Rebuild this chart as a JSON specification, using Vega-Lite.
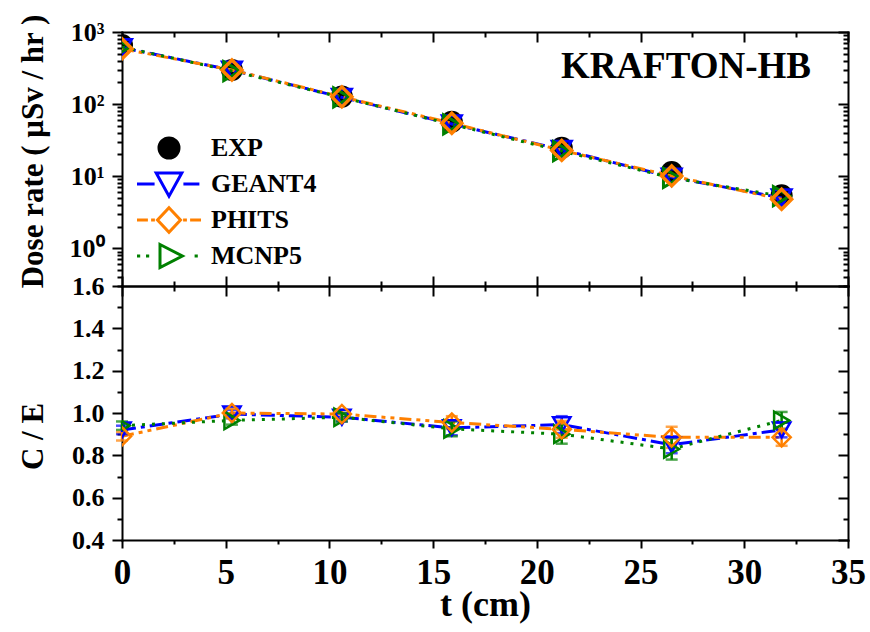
{
  "$schema": "https://vega.github.io/schema/vega-lite/v6.json",
  "background": "white",
  "padding": {"left": 16, "top": 13, "right": 5, "bottom": 5},
  "spacing": 0,
  "bounds": "flush",
  "datasets": {
    "dose": [
      {"t": 0, "series": "EXP", "dose": 660}, {"t": 5.3, "series": "EXP", "dose": 297}, {"t": 10.6, "series": "EXP", "dose": 127}, {"t": 15.9, "series": "EXP", "dose": 57}, {"t": 21.2, "series": "EXP", "dose": 24.8}, {"t": 26.5, "series": "EXP", "dose": 11.4}, {"t": 31.8, "series": "EXP", "dose": 5.43},
      {"t": 0, "series": "GEANT4", "dose": 607}, {"t": 5.3, "series": "GEANT4", "dose": 296}, {"t": 10.6, "series": "GEANT4", "dose": 124}, {"t": 15.9, "series": "GEANT4", "dose": 53}, {"t": 21.2, "series": "GEANT4", "dose": 23.4}, {"t": 26.5, "series": "GEANT4", "dose": 9.7}, {"t": 31.8, "series": "GEANT4", "dose": 5.0},
      {"t": 0, "series": "PHITS", "dose": 587}, {"t": 5.3, "series": "PHITS", "dose": 297}, {"t": 10.6, "series": "PHITS", "dose": 126}, {"t": 15.9, "series": "PHITS", "dose": 54.4}, {"t": 21.2, "series": "PHITS", "dose": 22.8}, {"t": 26.5, "series": "PHITS", "dose": 10.1}, {"t": 31.8, "series": "PHITS", "dose": 4.8},
      {"t": 0, "series": "MCNP5", "dose": 620}, {"t": 5.3, "series": "MCNP5", "dose": 287}, {"t": 10.6, "series": "MCNP5", "dose": 124}, {"t": 15.9, "series": "MCNP5", "dose": 52.4}, {"t": 21.2, "series": "MCNP5", "dose": 22.3}, {"t": 26.5, "series": "MCNP5", "dose": 9.5}, {"t": 31.8, "series": "MCNP5", "dose": 5.3}
    ],
    "ratio": [
      {"t": 0, "series": "GEANT4", "ce": 0.92, "err": 0.02}, {"t": 5.3, "series": "GEANT4", "ce": 0.995, "err": 0.02}, {"t": 10.6, "series": "GEANT4", "ce": 0.98, "err": 0.02}, {"t": 15.9, "series": "GEANT4", "ce": 0.93, "err": 0.035}, {"t": 21.2, "series": "GEANT4", "ce": 0.945, "err": 0.04}, {"t": 26.5, "series": "GEANT4", "ce": 0.85, "err": 0.04}, {"t": 31.8, "series": "GEANT4", "ce": 0.92, "err": 0.035},
      {"t": 0, "series": "PHITS", "ce": 0.89, "err": 0.02}, {"t": 5.3, "series": "PHITS", "ce": 1.0, "err": 0.02}, {"t": 10.6, "series": "PHITS", "ce": 0.995, "err": 0.02}, {"t": 15.9, "series": "PHITS", "ce": 0.955, "err": 0.03}, {"t": 21.2, "series": "PHITS", "ce": 0.923, "err": 0.04}, {"t": 26.5, "series": "PHITS", "ce": 0.885, "err": 0.05}, {"t": 31.8, "series": "PHITS", "ce": 0.885, "err": 0.04},
      {"t": 0, "series": "MCNP5", "ce": 0.94, "err": 0.02}, {"t": 5.3, "series": "MCNP5", "ce": 0.965, "err": 0.02}, {"t": 10.6, "series": "MCNP5", "ce": 0.98, "err": 0.02}, {"t": 15.9, "series": "MCNP5", "ce": 0.925, "err": 0.035}, {"t": 21.2, "series": "MCNP5", "ce": 0.9, "err": 0.045}, {"t": 26.5, "series": "MCNP5", "ce": 0.83, "err": 0.05}, {"t": 31.8, "series": "MCNP5", "ce": 0.965, "err": 0.04}
    ]
  },
  "config": {
    "font": "Liberation Serif",
    "view": {"stroke": null},
    "axis": {"grid": false, "domainColor": "black", "domainWidth": 2, "domainCap": "square", "tickColor": "black", "tickWidth": 2, "labelColor": "black", "labelFont": "Liberation Serif", "labelFontWeight": "bold", "titleFont": "Liberation Serif", "titleFontWeight": "bold", "titleColor": "black", "labelFlush": false, "labelOverlap": false, "labelBound": false}
  },
  "vconcat": [
    {
      "width": 726,
      "height": 254,
      "title": {"text": "KRAFTON-HB", "anchor": "end", "frame": "group", "orient": "top", "fontSize": 37, "font": "Liberation Serif", "fontWeight": "bold", "color": "black", "baseline": "alphabetic", "offset": 0, "dx": -37, "dy": 101},
      "data": {"name": "dose"},
      "resolve": {"axis": {"x": "independent", "y": "independent"}},
      "layer": [
        {
          "transform": [{"filter": "datum.series == 'EXP'"}],
          "mark": {"type": "point", "shape": "circle", "filled": true, "color": "black", "opacity": 1, "size": 484, "clip": true},
          "encoding": {
            "x": {"field": "t", "type": "quantitative", "scale": {"domain": [0, 35], "nice": false},
              "axis": {"orient": "bottom", "values": [0, 2.5, 5, 7.5, 10, 12.5, 15, 17.5, 20, 22.5, 25, 27.5, 30, 32.5, 35], "labels": false, "title": null,
                "tickSize": {"condition": {"test": "datum.value % 5 == 0", "value": -10}, "value": -5}}},
            "y": {"field": "dose", "type": "quantitative", "scale": {"type": "log", "domain": [0.3, 1000], "nice": false},
              "axis": {"orient": "left", "values": [0.3, 0.4, 0.5, 0.6, 0.7, 0.8, 0.9, 1, 2, 3, 4, 5, 6, 7, 8, 9, 10, 20, 30, 40, 50, 60, 70, 80, 90, 100, 200, 300, 400, 500, 600, 700, 800, 900, 1000],
                "labelExpr": "datum.value == 1000 ? '10³' : datum.value == 100 ? '10²' : datum.value == 10 ? '10¹' : datum.value == 1 ? '10⁰' : ''",
                "labelFontSize": 26, "labelPadding": 8, "labelBaseline": "middle",
                "tickSize": {"condition": {"test": "indexof([1,10,100,1000], datum.value) >= 0", "value": 10}, "value": 5},
                "title": "Dose rate ( μSv / hr )", "titleFontSize": 31, "titleX": -89, "titleY": 119, "titleBaseline": "middle", "titleAngle": -90, "titleAlign": "center"}}
          }
        },
        {
          "transform": [{"filter": "datum.series != 'EXP'"}],
          "mark": {"type": "line", "strokeWidth": 3, "clip": true},
          "encoding": {
            "x": {"field": "t", "type": "quantitative",
              "axis": {"orient": "top", "values": [0, 2.5, 5, 7.5, 10, 12.5, 15, 17.5, 20, 22.5, 25, 27.5, 30, 32.5, 35], "labels": false, "title": null,
                "tickSize": {"condition": {"test": "datum.value % 5 == 0", "value": -10}, "value": -5}}},
            "y": {"field": "dose", "type": "quantitative",
              "axis": {"orient": "right", "values": [0.3, 0.4, 0.5, 0.6, 0.7, 0.8, 0.9, 1, 2, 3, 4, 5, 6, 7, 8, 9, 10, 20, 30, 40, 50, 60, 70, 80, 90, 100, 200, 300, 400, 500, 600, 700, 800, 900, 1000], "labels": false, "title": null,
                "tickSize": {"condition": {"test": "indexof([1,10,100,1000], datum.value) >= 0", "value": -10}, "value": -5}}},
            "color": {"field": "series", "type": "nominal", "scale": {"domain": ["GEANT4", "PHITS", "MCNP5"], "range": ["#0000ff", "#ff8000", "#008000"]}, "legend": null},
            "strokeDash": {"field": "series", "type": "nominal", "scale": {"domain": ["GEANT4", "PHITS", "MCNP5"], "range": [[14, 5, 4, 5], [12, 5, 4, 5, 4, 5], [3, 7]]}, "legend": null}
          }
        },
        {
          "transform": [{"filter": "datum.series == 'GEANT4'"}],
          "mark": {"type": "point", "shape": "triangle-down", "filled": false, "color": "#0000ff", "strokeWidth": 3, "size": 360, "opacity": 1, "clip": true},
          "encoding": {"x": {"field": "t", "type": "quantitative", "axis": null}, "y": {"field": "dose", "type": "quantitative", "axis": null}}
        },
        {
          "transform": [{"filter": "datum.series == 'MCNP5'"}],
          "mark": {"type": "point", "shape": "triangle-right", "filled": false, "color": "#008000", "strokeWidth": 3, "size": 360, "opacity": 1, "clip": true},
          "encoding": {"x": {"field": "t", "type": "quantitative", "axis": null}, "y": {"field": "dose", "type": "quantitative", "axis": null}}
        },
        {
          "transform": [{"filter": "datum.series == 'PHITS'"}],
          "mark": {"type": "point", "shape": "diamond", "filled": false, "color": "#ff8000", "strokeWidth": 3.5, "size": 400, "opacity": 1, "clip": true},
          "encoding": {"x": {"field": "t", "type": "quantitative", "axis": null}, "y": {"field": "dose", "type": "quantitative", "axis": null}}
        },
        {
          "mark": {"type": "point", "filled": true, "opacity": 0},
          "encoding": {
            "x": {"field": "t", "type": "quantitative", "axis": null},
            "y": {"field": "dose", "type": "quantitative", "axis": null},
            "shape": {"field": "series", "type": "nominal",
              "scale": {"domain": ["EXP", "GEANT4", "PHITS", "MCNP5"], "range": [
                "M0,-1.25M0,1.25M1,0A1,1,0,1,1,-1,0A1,1,0,1,1,1,0Z",
                "M0,-1.25M0,1.25M-3.2,0H-1.44M1.44,0H3.04M-1.28,-1.09L1.28,-1.09L0,1.22Z",
                "M0,-1.25M0,1.25M-3.2,0H-2.11M-1.79,0H-1.41M1.41,0H1.79M2.11,0H3.2M0,-1.22L1.15,0L0,1.22L-1.15,0Z",
                "M0,-1.25M0,1.25M-3.2,0H-2.88M-2.3,0H-1.98M2.56,0H2.88M-0.9,-1.15L1.34,0L-0.9,1.15Z"]},
              "legend": {"orient": "none", "legendX": 34, "legendY": 103, "title": null, "symbolSize": 400, "symbolStrokeWidth": 3, "labelFontSize": 26, "labelFont": "Liberation Serif", "labelFontWeight": "bold", "labelColor": "black", "labelOffset": 29, "rowPadding": -2, "gridAlign": "all", "padding": 0, "symbolOpacity": 1}},
            "fill": {"field": "series", "type": "nominal",
              "scale": {"domain": ["EXP", "GEANT4", "PHITS", "MCNP5"], "range": ["black", "white", "white", "white"]},
              "legend": {"orient": "none", "legendX": 34, "legendY": 103, "title": null, "symbolSize": 400, "symbolStrokeWidth": 3, "labelFontSize": 26, "labelFont": "Liberation Serif", "labelFontWeight": "bold", "labelColor": "black", "labelOffset": 29, "rowPadding": -2, "gridAlign": "all", "padding": 0, "symbolOpacity": 1}},
            "stroke": {"field": "series", "type": "nominal",
              "scale": {"domain": ["EXP", "GEANT4", "PHITS", "MCNP5"], "range": ["black", "#0000ff", "#ff8000", "#008000"]},
              "legend": {"orient": "none", "legendX": 34, "legendY": 103, "title": null, "symbolSize": 400, "symbolStrokeWidth": 3, "labelFontSize": 26, "labelFont": "Liberation Serif", "labelFontWeight": "bold", "labelColor": "black", "labelOffset": 29, "rowPadding": -2, "gridAlign": "all", "padding": 0, "symbolOpacity": 1}}
          }
        }
      ]
    },
    {
      "width": 726,
      "height": 254,
      "data": {"name": "ratio"},
      "resolve": {"axis": {"x": "independent", "y": "independent"}},
      "layer": [
        {
          "mark": {"type": "line", "strokeWidth": 3, "clip": true},
          "encoding": {
            "x": {"field": "t", "type": "quantitative", "scale": {"domain": [0, 35], "nice": false},
              "axis": {"orient": "bottom", "values": [0, 2.5, 5, 7.5, 10, 12.5, 15, 17.5, 20, 22.5, 25, 27.5, 30, 32.5, 35],
                "labelExpr": "datum.value % 5 == 0 ? format(datum.value, 'd') : ''",
                "labelFontSize": 35, "labelPadding": 7,
                "tickSize": {"condition": {"test": "datum.value % 5 == 0", "value": 8}, "value": 4},
                "title": "t (cm)", "titleFontSize": 36, "titleY": 75, "titleBaseline": "alphabetic"}},
            "y": {"field": "ce", "type": "quantitative", "scale": {"domain": [0.4, 1.6], "nice": false, "zero": false},
              "axis": {"orient": "left", "values": [0.4, 0.5, 0.6, 0.7, 0.8, 0.9, 1.0, 1.1, 1.2, 1.3, 1.4, 1.5, 1.6],
                "labelExpr": "round(datum.value * 10) % 2 == 0 ? format(datum.value, '.1f') : ''",
                "labelFontSize": 26, "labelPadding": 8, "labelBaseline": "middle",
                "tickSize": {"condition": {"test": "round(datum.value * 10) % 2 == 0", "value": 10}, "value": 5},
                "title": "C / E", "titleFontSize": 31, "titleX": -89, "titleY": 150, "titleBaseline": "middle", "titleAngle": -90, "titleAlign": "center"}},
            "color": {"field": "series", "type": "nominal", "scale": {"domain": ["GEANT4", "PHITS", "MCNP5"], "range": ["#0000ff", "#ff8000", "#008000"]}, "legend": null},
            "strokeDash": {"field": "series", "type": "nominal", "scale": {"domain": ["GEANT4", "PHITS", "MCNP5"], "range": [[14, 5, 4, 5], [12, 5, 4, 5, 4, 5], [3, 7]]}, "legend": null}
          }
        },
        {
          "mark": {"type": "errorbar", "ticks": {"size": 12, "thickness": 2.5}, "thickness": 2.5},
          "encoding": {
            "x": {"field": "t", "type": "quantitative", "axis": null},
            "y": {"field": "ce", "type": "quantitative", "axis": null},
            "yError": {"field": "err"},
            "color": {"field": "series", "type": "nominal", "legend": null}
          }
        },
        {
          "transform": [{"filter": "datum.series == 'GEANT4'"}],
          "mark": {"type": "point", "shape": "triangle-down", "filled": false, "color": "#0000ff", "strokeWidth": 2.5, "size": 300, "opacity": 1, "clip": true},
          "encoding": {
            "x": {"field": "t", "type": "quantitative",
              "axis": {"orient": "top", "values": [0, 2.5, 5, 7.5, 10, 12.5, 15, 17.5, 20, 22.5, 25, 27.5, 30, 32.5, 35], "labels": false, "title": null,
                "tickSize": {"condition": {"test": "datum.value % 5 == 0", "value": -10}, "value": -5}}},
            "y": {"field": "ce", "type": "quantitative",
              "axis": {"orient": "right", "values": [0.4, 0.5, 0.6, 0.7, 0.8, 0.9, 1.0, 1.1, 1.2, 1.3, 1.4, 1.5, 1.6], "labels": false, "title": null,
                "tickSize": {"condition": {"test": "round(datum.value * 10) % 2 == 0", "value": -10}, "value": -5}}}
          }
        },
        {
          "transform": [{"filter": "datum.series == 'MCNP5'"}],
          "mark": {"type": "point", "shape": "triangle-right", "filled": false, "color": "#008000", "strokeWidth": 2.5, "size": 300, "opacity": 1, "clip": true},
          "encoding": {"x": {"field": "t", "type": "quantitative", "axis": null}, "y": {"field": "ce", "type": "quantitative", "axis": null}}
        },
        {
          "transform": [{"filter": "datum.series == 'PHITS'"}],
          "mark": {"type": "point", "shape": "diamond", "filled": false, "color": "#ff8000", "strokeWidth": 2.5, "size": 330, "opacity": 1, "clip": true},
          "encoding": {"x": {"field": "t", "type": "quantitative", "axis": null}, "y": {"field": "ce", "type": "quantitative", "axis": null}}
        }
      ]
    }
  ]
}
